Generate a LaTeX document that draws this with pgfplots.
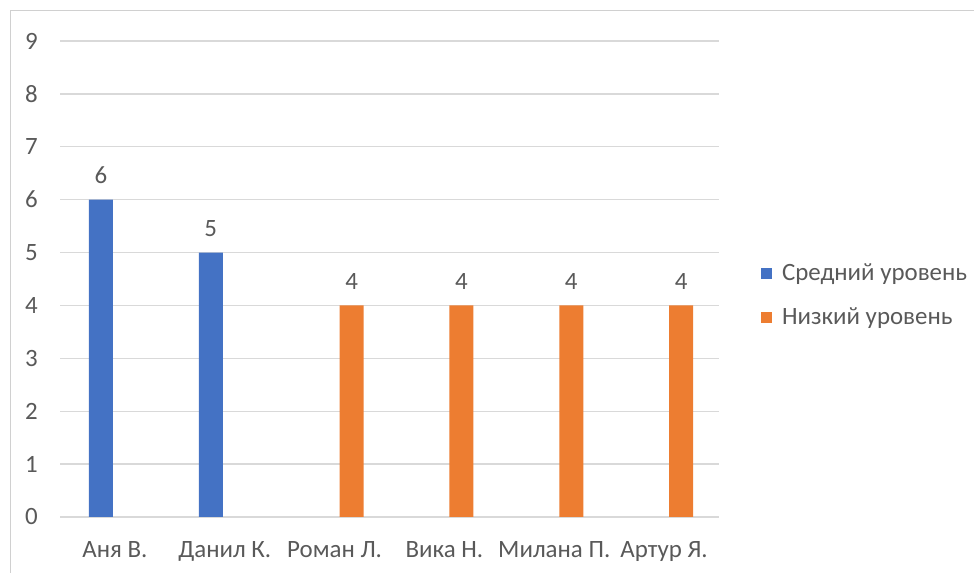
\documentclass[border=0pt]{standalone}
\usepackage{fontspec}
\setmainfont{Carlito}
\usepackage{pgfplots}
\pgfplotsset{compat=1.18}
\definecolor{barblue}{HTML}{4472C4}
\definecolor{barorange}{HTML}{ED7D31}
\definecolor{gridgray}{HTML}{D9D9D9}
\definecolor{framegray}{HTML}{D0D0D0}
\definecolor{textgray}{HTML}{595959}
\newcommand{\chartfont}{\fontsize{25}{30}\selectfont}
\pgfplotsset{
  sq legend/.style={legend image code/.code={\fill[##1] (0bp,-5.5bp) rectangle (11bp,5.5bp); \path (19bp,0);}},
}
\begin{document}
\begin{tikzpicture}
\path[use as bounding box] (0,0) rectangle (974bp,573bp);
% chart area frame
\draw[framegray, line width=1bp] (10bp,0) -- (10bp,562bp) -- (974bp,562bp);
\begin{axis}[
  at={(60bp,56bp)}, anchor=south west,
  scale only axis, width=659bp, height=476bp,
  xmin=-0.5, xmax=5.5, ymin=0, ymax=9,
  ybar, bar width=24bp,
  ytick={0,...,9}, xtick={0,...,5},
  xticklabels={Аня В., Данил К., Роман Л., Вика Н., Милана П., Артур Я.},
  ymajorgrids, grid style={gridgray, line width=1.3bp},
  axis line style={draw=none},
  major tick length=0pt,
  /pgf/number format/assume math mode=true,
  tick label style={font=\chartfont, text=textgray},
  yticklabel style={anchor=east, inner sep=0pt, xshift=-22bp},
  xticklabel style={anchor=base, inner sep=0pt, yshift=-40bp},
  nodes near coords,
  nodes near coords style={font=\chartfont, text=textgray, anchor=south, inner sep=0pt, yshift=16bp},
  legend style={at={(1.059,0.466)}, anchor=west, draw=none, fill=none,
    font=\chartfont, text=textgray, row sep=22bp},
  legend cell align=left,
]
\addplot[fill=barblue, draw=none, bar shift=-14bp, sq legend]
  coordinates {(0,6) (1,5)};
\addlegendentry{Средний уровень}
\addplot[fill=barorange, draw=none, bar shift=17bp, sq legend]
  coordinates {(2,4) (3,4) (4,4) (5,4)};
\addlegendentry{Низкий уровень}
\end{axis}
\end{tikzpicture}
\end{document}
